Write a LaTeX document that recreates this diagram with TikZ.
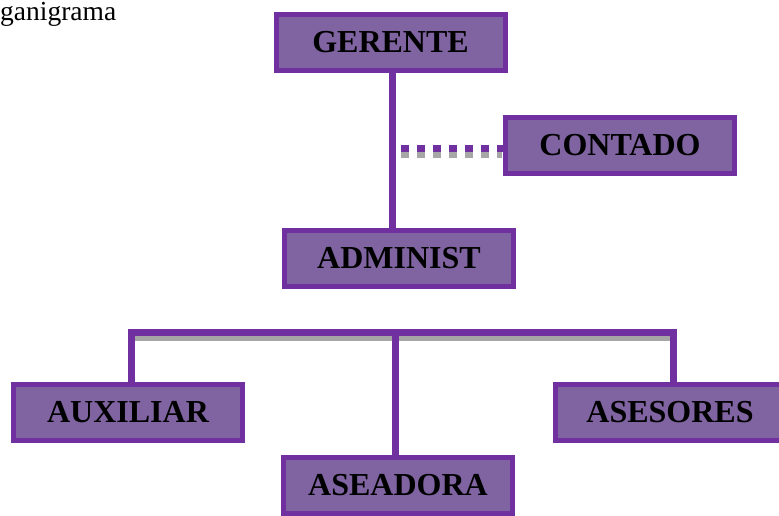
\documentclass[tikz,border=0pt]{standalone}
\usepackage{fontspec}
\setmainfont{Liberation Serif}
\definecolor{boxfill}{HTML}{8064A2}
\definecolor{boxline}{HTML}{7030A0}
\definecolor{shadowgrey}{HTML}{A6A6A6}
\begin{document}
\begin{tikzpicture}[x=1pt,y=-1pt,
  orgbox/.style={draw=boxline, fill=boxfill, line width=5pt, minimum width=229pt, minimum height=56pt, inner sep=0pt, font=\fontsize{32}{35}\selectfont\bfseries, text=black},
  conn/.style={draw=boxline, line width=7pt},
  connshadow/.style={draw=shadowgrey, line width=7pt},
  dotline/.style={draw=boxline, line width=7pt, dash pattern=on 8pt off 8pt},
  dotshadow/.style={draw=shadowgrey, line width=7pt, dash pattern=on 8pt off 8pt}]
\useasboundingbox (0,0) rectangle (779,515);
\node[anchor=base west, inner sep=0pt, font=\fontsize{27.5}{30}\selectfont] (title) at (0,20.5) {ganigrama};
% connectors shadows
\coordinate (jn) at (392,148);
\coordinate (bl) at (131,332);
\coordinate (bm) at (395,332);
\coordinate (br) at (673,332);
\draw[dotshadow] ([yshift=-6pt]jn.center) ++(9,0) -- ++(101,0);
\draw[connshadow] ([yshift=-5pt]bl) -- ([yshift=-5pt]br);
% boxes
\node[orgbox] (ger) at (390.5,42.5) {GERENTE};
\node[orgbox] (con) at (620,145.5) {CONTADO};
\node[orgbox] (adm) at (399,258) {ADMINIST};
\node[orgbox] (aux) at (128,412.5) {AUXILIAR};
\node[orgbox] (ase) at (670,412) {ASESORES};
\node[orgbox] (asea) at (398,485) {ASEADORA};
% connectors
\draw[conn] (ger.south -| jn) -- (adm.north -| jn);
\draw[dotline] ([xshift=9pt]jn) -- (con.west |- jn);
\draw[conn] ([xshift=-3.5pt]bl) -- ([xshift=3.5pt]br);
\draw[conn] (bl) -- (aux.north -| bl);
\draw[conn] (bm) -- (asea.north -| bm);
\draw[conn] (br) -- (ase.north -| br);
\end{tikzpicture}
\end{document}
